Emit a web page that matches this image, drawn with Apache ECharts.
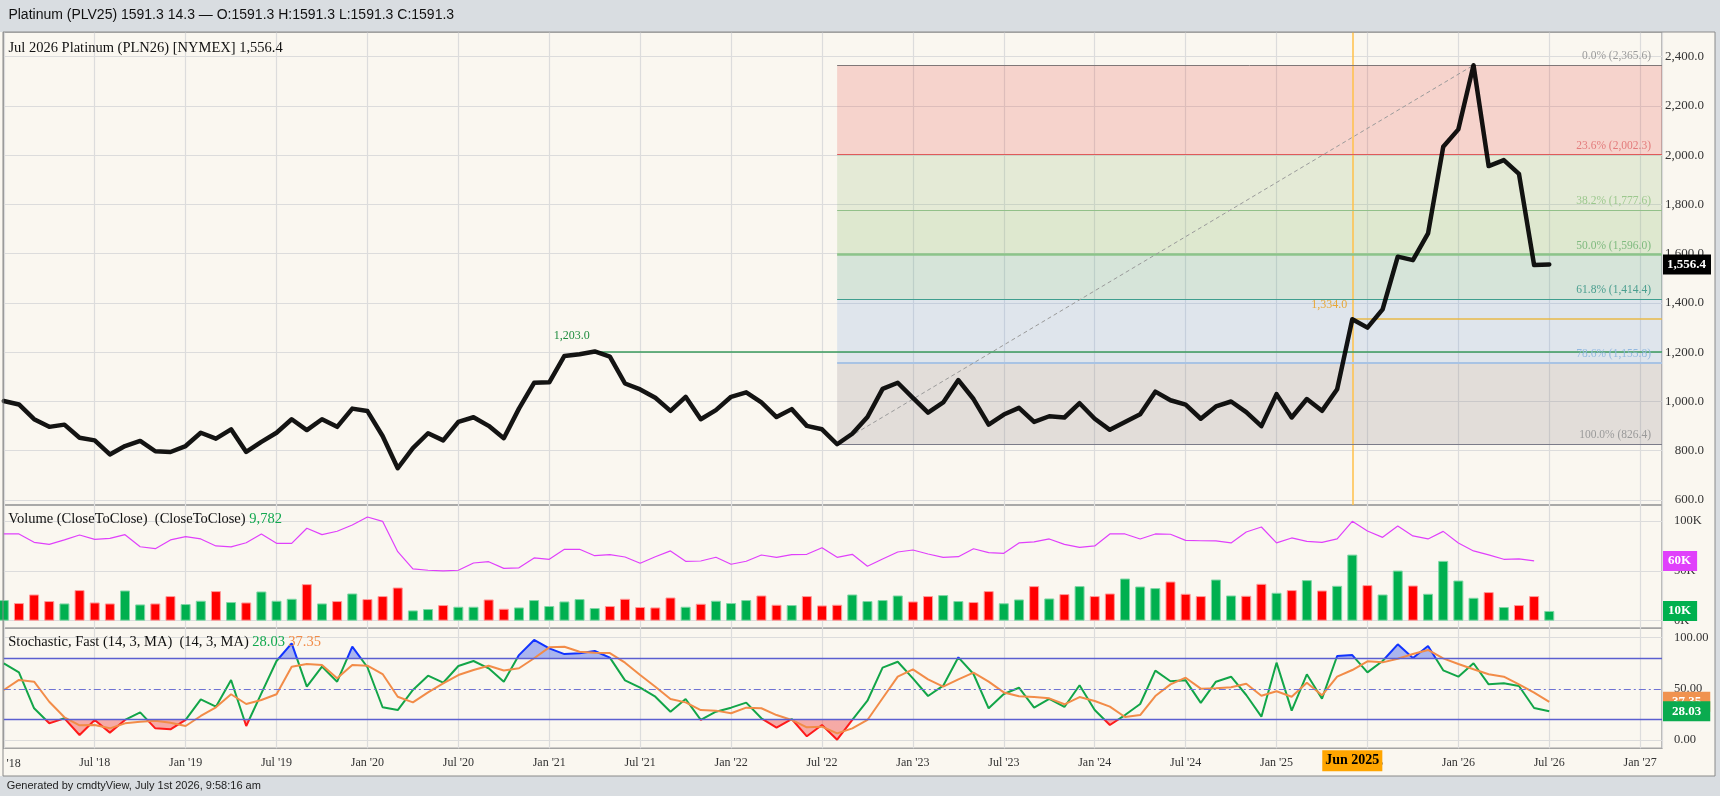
<!DOCTYPE html>
<html><head><meta charset="utf-8">
<script src="https://cdn.jsdelivr.net/npm/echarts/dist/echarts.min.js"></script>
<style>html,body{margin:0;padding:0;background:#faf7f0}#c{width:1720px;height:796px}</style>
</head><body><div id="c"></div>
<script>
// ---------- DATA (monthly, Jan 2018 = index 0 ... Jul 2026 = index 102) ----------
const tickLabels = ["Jan '18","Jul '18","Jan '19","Jul '19","Jan '20","Jul '20","Jan '21","Jul '21","Jan '22","Jul '22","Jan '23","Jul '23","Jan '24","Jul '24","Jan '25","Jul '25","Jan '26","Jul '26","Jan '27"];
const price = [1002,988,928,897,906,853,842,785,819,840,798,795,819,873,849,887,795,836,873,928,884,928,897,971,961,860,729,811,871,842,917,936,901,851,971,1076,1078,1185,1192,1203,1182,1073,1049,1015,962,1019,928,965,1019,1037,996,937,969,901,887,826.4,869,937,1051,1076,1015,955,996,1087,1010,906,947,974,917,940,935,993,930,885,917,948,1040,1005,987,930,980,1000,957,900,1030,935,1010,962,1050,1334,1300,1374,1588,1574,1683,2034,2105,2365.6,1956,1980,1924,1554,1556.4];
const volume = [20.7,17.7,26.3,19.7,17.3,30.7,18.3,17.3,30.3,16.3,17.3,24.7,16.7,20,29.7,18.7,18.3,29.3,20,22,36.7,17.3,19.7,27.3,21.7,24.7,33.3,10.3,11.7,15.7,14,14,21.3,12,13.3,20.7,14.7,19.3,21.7,12.7,14.7,22,13.7,13.3,23.3,14,17,20,17.7,20.7,25.3,16,15.7,24.7,15.3,16,26.3,19.7,20.7,25.3,19.3,24.7,25.7,19.7,18.7,29.7,17.5,21.3,34.7,22.3,26.7,34.7,24.7,27.3,42.3,34.3,32.7,39.3,27,24.7,41.3,25.3,25,37,28,30.7,40.7,30.3,35,66.3,35.7,26.3,50.3,35.3,27,60,40.3,23,28.7,13.7,15.7,24.7,9.782];
const volumeLine = [87,87,78.6,76.6,81,86,81.6,82.6,86.3,74.2,72.2,81,84.3,82,75,74,78.2,87,77.6,77.6,92.7,86.3,89.7,96,104,99.7,69.2,51.9,50.6,49.9,50.6,57.9,59.2,52.5,53,63,61.6,71.6,71.6,65.2,66.2,63.9,57.6,64.2,70,59.6,59.9,63.6,56.6,59.6,65.9,63.6,66.2,66.6,73.2,63.6,66.6,54.6,61.9,68.9,70.9,66.9,63.6,64.2,72.2,68.2,67.6,78,79,82,76.6,73.6,75,87,87,82,87,86.7,80.6,80.2,80,78,89,94,78,83,79.6,78.6,82,99.7,90,83.6,95,85,82,89.6,78,70,66,61.6,62,60];
const stochK = [75,66.2,31,16.3,21.2,4.9,19.6,7.2,19.6,27,11.4,10.4,19.6,39.8,32.6,58.7,13.7,45.6,77.2,94.5,52.1,71.7,57,91.2,71.1,32,29.3,48.9,62.9,56,72.3,77.2,70.1,57,83,97.8,89.6,84,84.7,87,80.5,58.3,51.1,42.3,27.7,40.1,19.6,27.7,31.6,36.5,21.2,12,20.5,3.6,14.7,0.3,19.6,38.4,70.7,76.5,60.3,43,53.1,80.8,64.5,31,45,51.1,31.6,40.1,32.3,53.5,29.3,14.7,24.4,35.2,67.8,57.4,58.3,36.3,57,61.9,44,22.8,75.6,28.7,64.2,40.4,82.1,83,66.1,77.2,93.5,80.2,91.9,68.1,61.9,75,54.4,55.4,52.8,31.3,28.03];
const stochD = [48.9,58.7,57,37.4,22.2,14.3,14.7,11.4,16.3,17.9,18.9,16.9,13.7,23.5,32,44.7,35.2,39.1,44.7,71.7,74.3,73.3,60.3,73.3,72.6,64.5,42.3,36.8,46.6,55.4,63.5,68.4,72.6,68,70.1,79.9,90.6,91.2,86.3,85.3,85,75.6,63.5,52.1,40.1,36.8,29.3,28.7,26.1,31.6,31,24.4,19.6,12.4,13,6.5,11.4,19.6,40.8,61.9,69.1,59.3,52.1,59.3,65.8,57,46.5,42.7,42,40.7,34.9,42,38.1,32.6,22.5,24.4,43,54.4,60.9,50.2,50.5,51.5,55,43.3,47.6,42.3,56,43.7,61.9,68.4,76.9,75.9,79.5,84,88,79.8,74.3,69.1,64.2,61.9,54.4,46.3,37.35];
const fibPct = [0, 23.6, 38.2, 50, 61.8, 78.6, 100];
const fibVal = [2365.6, 2002.3, 1777.6, 1596.0, 1414.4, 1155.8, 826.4];
const swingLowIdx = 55, swingHighIdx = 97;
const peakIdx = 39, peakVal = 1203.0;
const markIdx = 89, markVal = 1334.0, markLabel = 'Jun 2025';
const lastPrice = 1556.4, lastVolume = 9.782, lastVolLine = 60, lastK = 28.03, lastD = 37.35;
const obLevel = 80, osLevel = 20, midLevel = 50;

// ---------- STYLE ----------
const SERIF = 'Liberation Serif', SANS = 'Liberation Sans';
const XMAX = 109.44, L = 3.8, R = 58;
const GRID_C = '#dcdcdc';
const GREEN = '#00b04f', RED = '#ff0000';
const K_GREEN = '#12a548', K_BLUE = '#1133ff', K_RED = '#ff1a1a';
const OB_FILL = 'rgba(60,90,235,0.42)', OS_FILL = 'rgba(240,60,60,0.41)', NONE = 'rgba(0,0,0,0)';
const fibLineCol = ['#7f7777','#e05a5a','#92c089','#8cc48a','#3f9e8f','#a8c3e4','#7b7b88'];
const fibLineW = [1,1.2,1.2,2.5,1.2,2,1.2];
const fibLabCol = ['#9a9a9a','#e37b7b','#9cc88e','#7fba7f','#4a9e8f','#93b9e0','#9a9a9a'];
const zoneCol = ['rgba(230,60,50,0.19)','rgba(130,180,100,0.18)','rgba(130,180,100,0.23)','rgba(80,160,130,0.21)','rgba(100,150,220,0.18)','rgba(140,130,135,0.22)'];
const fmt1 = v => v.toLocaleString('en-US',{minimumFractionDigits:1,maximumFractionDigits:1});
const pts = arr => arr.map((v,i)=>[i,v]);

const frames = [{top:32,height:473},{top:505,height:123.3},{top:628.3,height:120}];
const datas = [{top:56.7,height:443.3},{top:521,height:99.7},{top:637.7,height:102.3}];
const grid = [];
frames.forEach((f,i)=>{
  grid.push({left:L,right:R,top:f.top,height:f.height,show:true,borderColor:'#a4a4a4',borderWidth:1.5,backgroundColor:'transparent'});
  grid.push({left:L,right:R,top:datas[i].top,height:datas[i].height});
});
const xAxis = grid.map((g,i)=>({
  type:'value',gridIndex:i,min:0,max:XMAX,interval:6,
  axisLine:{show:false},axisTick:{show:false},
  splitLine:{show:i%2===0,lineStyle:{color:GRID_C,width:1.2}},
  axisLabel:{show:i===4,showMinLabel:false,margin:9,color:'#333',fontFamily:SERIF,fontSize:12,
    formatter:v=>{const k=v/6;return Number.isInteger(k)?tickLabels[k]:'';}}
}));
const hiddenY = gi => ({type:'value',gridIndex:gi,min:0,max:1,show:false});
const yAxis = [
  hiddenY(0),
  {type:'value',gridIndex:1,position:'right',min:600,max:2400,interval:200,
   axisLine:{show:false},axisTick:{show:false},
   splitLine:{lineStyle:{color:GRID_C,width:1.2}},
   axisLabel:{formatter:fmt1,align:'right',margin:42,color:'#333',fontFamily:SERIF,fontSize:13}},
  hiddenY(2),
  {type:'value',gridIndex:3,position:'right',min:0,max:100,interval:50,
   axisLine:{show:false},axisTick:{show:false},
   splitLine:{lineStyle:{color:GRID_C,width:1.2}},
   axisLabel:{formatter:v=>v+'K',align:'left',margin:12,color:'#333',fontFamily:SERIF,fontSize:12.5}},
  hiddenY(4),
  {type:'value',gridIndex:5,position:'right',min:0,max:100,interval:50,
   axisLine:{show:false},axisTick:{show:false},
   splitLine:{lineStyle:{color:[GRID_C,NONE,GRID_C],width:1.2}},
   axisLabel:{formatter:v=>v.toFixed(2),align:'left',margin:12,color:'#333',fontFamily:SERIF,fontSize:12.5}}
];

const noLine = {width:0,color:NONE};
const tag = (val,text,bg,pad) => ({yAxis:val,lineStyle:{color:NONE,width:0},
  label:{show:true,position:'end',distance:1,formatter:text,backgroundColor:bg,color:'#fff',opacity:1,
   fontWeight:'bold',fontFamily:SERIF,fontSize:13,padding:pad}});

const fibLines = fibVal.map((v,i)=>[
  {coord:[swingLowIdx,v],lineStyle:{color:fibLineCol[i],width:fibLineW[i],type:'solid'},
   label:{show:true,position:'insideEndTop',distance:[11,3],formatter:fibPct[i].toFixed(1)+'% ('+fmt1(v)+')',
     color:fibLabCol[i],fontFamily:SERIF,fontSize:11.5}},
  {coord:[XMAX,v]}]);
const fibAreas = fibVal.slice(0,-1).map((v,i)=>[
  {coord:[swingLowIdx,v],itemStyle:{color:zoneCol[i]}},{coord:[XMAX,fibVal[i+1]]}]);

const volColors = volume.map((v,i)=> (i===0 || price[i]>=price[i-1]) ? GREEN : RED);

const series = [
  // 0 price frame: vertical marker line
  {type:'line',xAxisIndex:0,yAxisIndex:0,data:[[0,0.5]],symbol:'none',lineStyle:noLine,silent:true,
   markLine:{silent:true,symbol:['none','none'],animation:false,label:{show:false},
     data:[{xAxis:markIdx,lineStyle:{color:'#ffc04a',width:1.5,type:'solid'}}]}},
  // 1 fib zones, levels, reference lines
  {type:'line',xAxisIndex:1,yAxisIndex:1,z:1,data:[[swingLowIdx,fibVal[6]]],symbol:'none',lineStyle:noLine,silent:true,
   markArea:{silent:true,animation:false,data:fibAreas},
   markLine:{silent:true,symbol:['none','none'],animation:false,label:{show:false},
     data:fibLines.concat([
       [{coord:[swingLowIdx,price[swingLowIdx]],lineStyle:{color:'#9a9a9a',width:1,type:[4,3]}},{coord:[swingHighIdx,price[swingHighIdx]]}],
       [{coord:[peakIdx,peakVal],lineStyle:{color:'#3a9a5c',width:1.5,type:'solid'}},{coord:[XMAX,peakVal]}],
       [{coord:[markIdx,markVal],lineStyle:{color:'#e9b949',width:1.5,type:'solid'}},{coord:[XMAX,markVal]}]
     ])}},
  // 2 price line
  {type:'line',xAxisIndex:1,yAxisIndex:1,z:5,data:pts(price),symbol:'none',silent:true,
   lineStyle:{color:'rgba(0,0,0,0.92)',width:4.5,join:'round',cap:'round'},
   markPoint:{silent:true,animation:false,symbol:'rect',symbolSize:1,itemStyle:{color:NONE},
     data:[
      {coord:[peakIdx,peakVal],label:{show:true,position:'inside',offset:[-23,-15.5],formatter:fmt1(peakVal),color:'#1f8c3e',fontFamily:SERIF,fontSize:12}},
      {coord:[markIdx,markVal],label:{show:true,position:'inside',offset:[-23,-14],formatter:fmt1(markVal),color:'#e8a838',fontFamily:SERIF,fontSize:12}}
     ]}},
  // 3 volume bars
  {type:'bar',xAxisIndex:3,yAxisIndex:3,barWidth:10,silent:true,
   data:volume.map((v,i)=>({value:[i,v],itemStyle:{color:volColors[i],borderColor:volColors[i]===GREEN?'#7fd7a6':'#ff9a9a',borderWidth:1}}))},
  // 4 volume line
  {type:'line',xAxisIndex:3,yAxisIndex:3,data:pts(volumeLine),symbol:'none',clip:false,silent:true,
   lineStyle:{color:'#e040fb',width:1.2}},
  // 5 stochastic reference lines
  {type:'line',xAxisIndex:5,yAxisIndex:5,z:1,data:[[0,50]],symbol:'none',lineStyle:noLine,silent:true,
   markLine:{silent:true,symbol:['none','none'],animation:false,label:{show:false},
     data:[{yAxis:obLevel,lineStyle:{color:'#5b5fd0',width:1.3,type:'solid'}},
           {yAxis:osLevel,lineStyle:{color:'#5b5fd0',width:1.3,type:'solid'}},
           {yAxis:midLevel,lineStyle:{color:'#6f73d4',width:1.2,type:[7,3,2,3]}}]}},
  // 6 overbought fill
  {type:'line',xAxisIndex:5,yAxisIndex:5,z:2,data:pts(stochK),symbol:'none',silent:true,
   lineStyle:{width:0,color:NONE},areaStyle:{origin:'start',opacity:1,color:NONE}},
  // 7 oversold fill
  {type:'line',xAxisIndex:5,yAxisIndex:5,z:2,data:pts(stochK),symbol:'none',silent:true,
   lineStyle:{width:0,color:NONE},areaStyle:{origin:'end',opacity:1,color:NONE}},
  // 8 %K
  {type:'line',xAxisIndex:5,yAxisIndex:5,z:3,data:pts(stochK),symbol:'none',silent:true,
   lineStyle:{width:2,color:K_GREEN}},
  // 9 %D
  {type:'line',xAxisIndex:5,yAxisIndex:5,z:4,data:pts(stochD),symbol:'none',silent:true,
   lineStyle:{width:2,color:'#f28c48'}},
  // 10 tags (price)
  {type:'line',xAxisIndex:1,yAxisIndex:1,z:20,data:[[0,lastPrice]],symbol:'none',lineStyle:noLine,silent:true,
   markLine:{silent:true,symbol:['none','none'],animation:false,label:{show:false},
     data:[tag(lastPrice,fmt1(lastPrice),'#000',[4,5,3,4])]}},
  // 11 tags (volume)
  {type:'line',xAxisIndex:3,yAxisIndex:3,z:20,data:[[0,0]],symbol:'none',lineStyle:noLine,silent:true,
   markLine:{silent:true,symbol:['none','none'],animation:false,label:{show:false},
     data:[tag(lastVolLine,'60K','#e040fb',[4,6,3,5]),tag(lastVolume,'10K',GREEN,[4,6,3,5])]}},
  // 12 tags (stochastic)
  {type:'line',xAxisIndex:5,yAxisIndex:5,z:20,data:[[0,50]],symbol:'none',lineStyle:noLine,silent:true,
   markLine:{silent:true,symbol:['none','none'],animation:false,label:{show:false},
     data:[tag(lastD,lastD.toFixed(2),'#f0924f',[4,9,3,9]),tag(lastK,lastK.toFixed(2),'#0aab4f',[4,9,3,9])]}},
  // 13 highlighted date on axis
  {type:'line',xAxisIndex:4,yAxisIndex:4,z:20,data:[[0,0.5]],symbol:'none',lineStyle:noLine,silent:true,
   markPoint:{silent:true,animation:false,symbol:'rect',symbolSize:1,itemStyle:{color:NONE},
     data:[{coord:[markIdx,0],label:{show:true,position:'inside',offset:[0,12.5],formatter:markLabel,
       backgroundColor:'#ffa500',color:'#000',fontWeight:'bold',fontFamily:SERIF,fontSize:14,padding:[4,3,3,3]}}]}}
];

const graphic = [
  {type:'rect',shape:{x:0,y:0,width:1720,height:32},style:{fill:'#d9dde1'},z:100,silent:true},
  {type:'rect',shape:{x:0,y:776,width:1720,height:20},style:{fill:'#d9dde1'},z:100,silent:true},
  {type:'rect',shape:{x:1715,y:0,width:5,height:796},style:{fill:'#d9dde1'},z:100,silent:true},
  {type:'rect',shape:{x:3,y:32,width:1712,height:744},style:{fill:'none',stroke:'#8a8a8a',lineWidth:1},z:101,silent:true},
  {type:'text',x:6.5,y:764,z:102,silent:true,style:{text:tickLabels[0].slice(4),fill:'#333',font:'12px "'+SERIF+'"',verticalAlign:'middle'}},
  {type:'text',x:8.4,y:15.5,z:102,silent:true,style:{text:'Platinum (PLV25) 1591.3 14.3 \u2014 O:1591.3 H:1591.3 L:1591.3 C:1591.3',
    fill:'#111',font:'14px "'+SANS+'"',verticalAlign:'middle'}},
  {type:'text',x:6.7,y:786,z:102,silent:true,style:{text:'Generated by cmdtyView, July 1st 2026, 9:58:16 am',
    fill:'#222',font:'11px "'+SANS+'"',verticalAlign:'middle'}},
  {type:'text',x:8.4,y:48,z:102,silent:true,style:{text:'Jul 2026 Platinum (PLN26) [NYMEX] '+fmt1(lastPrice),
    fill:'#111',font:'14.5px "'+SERIF+'"',verticalAlign:'middle'}},
  {type:'text',x:8.3,y:519.5,z:102,silent:true,style:{text:'{a|Volume (CloseToClose)  (CloseToClose) }{g|'+Math.round(lastVolume*1000).toLocaleString('en-US')+'}',
    verticalAlign:'middle',rich:{a:{fill:'#111',fontFamily:SERIF,fontSize:14.5},g:{fill:'#10a84e',fontFamily:SERIF,fontSize:14.5}}}},
  {type:'text',x:8.3,y:642.5,z:102,silent:true,style:{text:'{a|Stochastic, Fast (14, 3, MA)  (14, 3, MA) }{g|'+lastK.toFixed(2)+'} {o|'+lastD.toFixed(2)+'}',
    verticalAlign:'middle',rich:{a:{fill:'#111',fontFamily:SERIF,fontSize:14.5},g:{fill:'#10a84e',fontFamily:SERIF,fontSize:14.5},o:{fill:'#f28c48',fontFamily:SERIF,fontSize:14.5}}}}
];

const option = {backgroundColor:'#faf7f0',animation:false,grid,xAxis,yAxis,series,graphic};
const chart = echarts.init(document.getElementById('c'));
chart.setOption(option);

// colour the stochastic by zone using gradients placed through the axis scale
const py = v => chart.convertToPixel({yAxisIndex:5}, v);
const yTop = py(100), yBot = py(0);
const off = v => (py(v) - yTop) / (yBot - yTop);
const o80 = off(obLevel), o20 = off(osLevel);
const G = (stops) => new echarts.graphic.LinearGradient(0, yTop, 0, yBot, stops, true);
series[8].lineStyle.color = G([{offset:0,color:K_BLUE},{offset:o80,color:K_BLUE},{offset:o80,color:K_GREEN},
  {offset:o20,color:K_GREEN},{offset:o20,color:K_RED},{offset:1,color:K_RED}]);
series[6].areaStyle.color = G([{offset:0,color:OB_FILL},{offset:o80,color:OB_FILL},{offset:o80,color:NONE},{offset:1,color:NONE}]);
series[7].areaStyle.color = G([{offset:0,color:NONE},{offset:o20,color:NONE},{offset:o20,color:OS_FILL},{offset:1,color:OS_FILL}]);
chart.setOption(option);
</script></body></html>
